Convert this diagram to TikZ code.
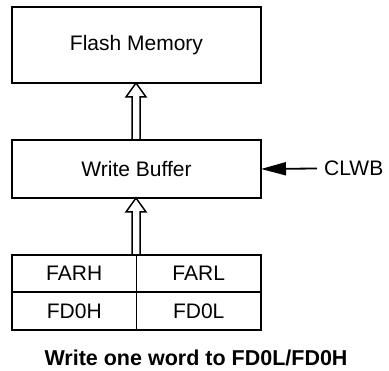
\documentclass[tikz,border=0pt]{standalone}
\usepackage{fontspec}
\setmainfont{Liberation Sans}
\usetikzlibrary{arrows.meta,calc}

% hollow double-line arrow from one node anchor up to another
\newcommand{\hollowup}[2]{%
  \draw[line width=1.5pt,line join=miter]
    ($(#1)+(-4,0)$) -- ($(#2)+(-4,14)$) -- ($(#2)+(-10,14)$) -- (#2)
    -- ($(#2)+(10,14)$) -- ($(#2)+(4,14)$) -- ($(#1)+(4,0)$);}

\begin{document}
\begin{tikzpicture}[x=1pt,y=-1pt,
    box/.style={draw,line width=1.8pt,minimum width=249pt,inner sep=0pt,outer sep=0pt},
    cell/.style={draw,line width=1.8pt,minimum width=124.5pt,minimum height=37.5pt,inner sep=0pt,outer sep=0pt},
    every node/.style={font=\fontsize{21}{25}\selectfont}]
\useasboundingbox (0,0) rectangle (389,371);
\node[box,minimum height=76pt](flash) at (136.5,45){Flash Memory};
\node[box,minimum height=58pt](wbuf) at (136.5,169){Write Buffer};
\node[cell](farh) at (74.25,273.5){FARH};
\node[cell](farl) at (198.75,273.5){FARL};
\node[cell](fdh) at (74.25,311){FD0H};
\node[cell](fdl) at (198.75,311){FD0L};
\node[anchor=west,inner sep=0pt](clwb) at (324,168.5){CLWB};
\node[font=\fontsize{21.5}{25}\selectfont\bfseries](cap) at (196,358){Write one word to FD0L/FD0H};
\coordinate (wbtop) at (136,140);
\coordinate (flbot) at (136,83);
\coordinate (tbtop) at (136,255);
\coordinate (wbbot) at (136,198);
\hollowup{wbtop}{flbot}
\hollowup{tbtop}{wbbot}
\draw[line width=1.8pt,-{Triangle[length=25pt,width=13pt]}] (clwb.west) ++(-7,0) -- (wbuf.east);
\end{tikzpicture}
\end{document}
